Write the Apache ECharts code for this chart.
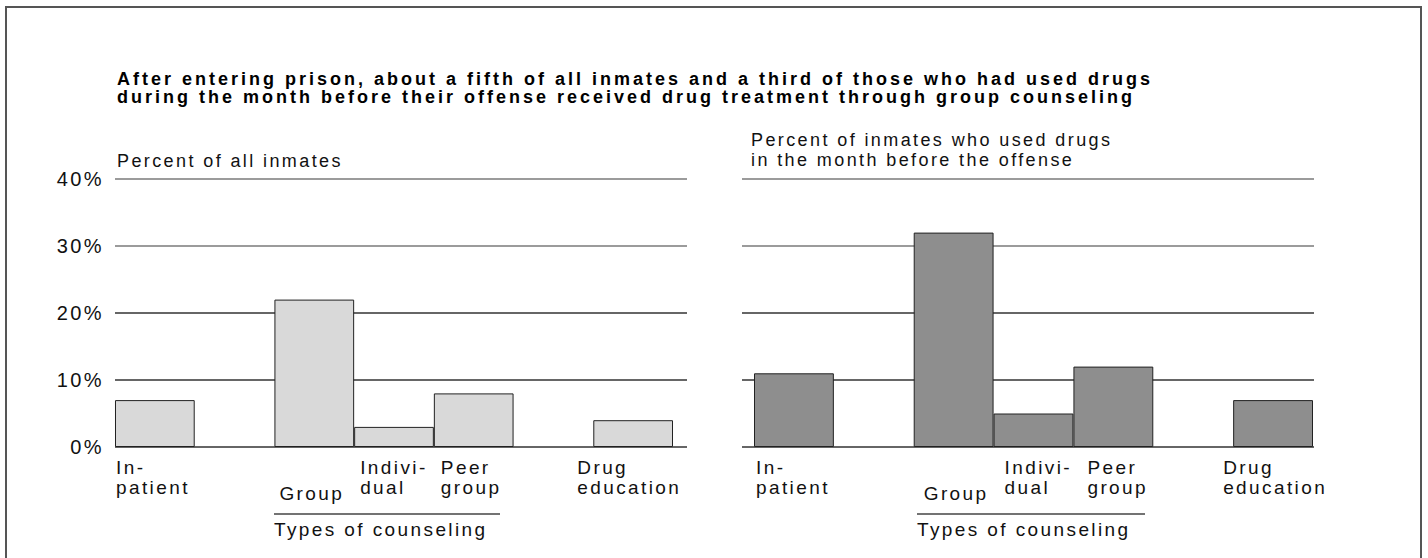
<!DOCTYPE html>
<html>
<head>
<meta charset="utf-8">
<script src="https://cdn.jsdelivr.net/npm/echarts@6/dist/echarts.min.js"></script>
<style>
  html, body { margin: 0; padding: 0; background: #fff; }
  #chart { width: 1428px; height: 558px; }
  /* the original uses loosely tracked Helvetica */
  #chart text { letter-spacing: 2.4px; }
  #chart text[style*="bold"] { letter-spacing: 3px; }
</style>
</head>
<body>
<div id="chart"></div>
<script>
// slots along the x axis, empty strings are the gaps between groups
const categories = ['In-\npatient', '', 'Group', 'Indivi-\ndual', 'Peer\ngroup', '', 'Drug\neducation'];
const allInmates = [7, null, 22, 3, 8, null, 4];
const drugUsers = [11, null, 32, 5, 12, null, 7];
const yTicks = [0, 10, 20, 30, 40];
const titleLines = [
  'After entering prison, about a fifth of all inmates and a third of those who had used drugs',
  'during the month before their offense received drug treatment through group counseling'
];

// label nudges from the bar's bottom-left corner [dx, dy]
const nudgeLeft = [[1, 10], null, [5, 36], [6, 10], [7, 10], null, [-16, 10]];
const nudgeRight = [[2, 10], null, [10, 36], [11, 10], [14, 10], null, [-10, 10]];

const FONT = 'Liberation Sans, Arial, sans-serif';
const TEXT = '#111';
const PLOT_TOP = 179;
const PLOT_H = 268;

const chart = echarts.init(document.getElementById('chart'), null, { renderer: 'svg' });

function barData(values, nudges) {
  return values.map((v, i) => {
    if (v == null) return '-';
    return {
      value: v,
      label: { offset: nudges[i] }
    };
  });
}

function barSeries(values, nudges, axisIdx, fill) {
  return {
    type: 'bar',
    xAxisIndex: axisIdx,
    yAxisIndex: axisIdx,
    barCategoryGap: '0%',
    data: barData(values, nudges),
    itemStyle: { color: fill, borderColor: '#222', borderWidth: 1 },
    label: {
      show: true,
      position: [0, '100%'],
      align: 'left',
      verticalAlign: 'top',
      formatter: '{b}',
      fontFamily: FONT,
      fontSize: 19,
      lineHeight: 20,
      color: TEXT
    },
    emphasis: { disabled: true },
    silent: true
  };
}

const gridLineColors = ['#333', '#333', '#333', '#7a7a7a', '#7a7a7a'];

const titleStyle = { fontFamily: FONT, fontSize: 18, fontWeight: 'bold', lineHeight: 18, color: '#000' };

const option = {
  backgroundColor: '#fff',
  animation: false,
  title: [
    { text: titleLines[0], left: 117, top: 69.5, padding: 0, textStyle: titleStyle },
    { text: titleLines[1], left: 117, top: 88, padding: 0, textStyle: titleStyle },
    {
      text: 'Percent of all inmates',
      left: 117,
      top: 152,
      padding: 0,
      textStyle: { fontFamily: FONT, fontSize: 18, fontWeight: 'normal', lineHeight: 18, color: TEXT }
    },
    {
      text: 'Percent of inmates who used drugs\nin the month before the offense',
      left: 751,
      top: 130,
      padding: 0,
      textStyle: { fontFamily: FONT, fontSize: 18, fontWeight: 'normal', lineHeight: 20, color: TEXT }
    }
  ],
  grid: [
    { left: 115, top: PLOT_TOP, width: 572, height: PLOT_H },
    { left: 115, top: PLOT_TOP, width: 558, height: PLOT_H },
    { left: 742, top: PLOT_TOP, width: 572, height: PLOT_H },
    { left: 754, top: PLOT_TOP, width: 559, height: PLOT_H }
  ],
  xAxis: [
    { gridIndex: 0, type: 'category', data: [''], show: false },
    { gridIndex: 1, type: 'category', data: categories, show: false },
    { gridIndex: 2, type: 'category', data: [''], show: false },
    { gridIndex: 3, type: 'category', data: categories, show: false }
  ],
  yAxis: [0, 1, 2, 3].map(i => ({
    gridIndex: i,
    type: 'value',
    min: yTicks[0],
    max: yTicks[yTicks.length - 1],
    interval: 10,
    axisLine: { show: false },
    axisTick: { show: false },
    axisLabel: {
      show: i === 0,
      formatter: '{value}%',
      margin: 11,
      padding: [5, 0, 0, 0],
      fontFamily: FONT,
      fontSize: 20,
      color: TEXT
    },
    splitLine: {
      show: i === 0 || i === 2,
      lineStyle: { color: gridLineColors, width: 1.5 }
    }
  })),
  series: [
    barSeries(allInmates, nudgeLeft, 1, '#d9d9d9'),
    barSeries(drugUsers, nudgeRight, 3, '#8e8e8e')
  ],
  graphic: [
    {
      type: 'polyline',
      shape: { points: [[6, 560], [6, 7], [1421, 7], [1421, 560]] },
      style: { stroke: '#555', lineWidth: 2, fill: null },
      silent: true
    },
    {
      type: 'line',
      shape: { x1: 274, y1: 514, x2: 500, y2: 514 },
      style: { stroke: '#444', lineWidth: 1.5 }
    },
    {
      type: 'text',
      left: 274,
      top: 520,
      style: { text: 'Types of counseling', font: '19px ' + FONT, fill: TEXT }
    },
    {
      type: 'line',
      shape: { x1: 917, y1: 514, x2: 1145, y2: 514 },
      style: { stroke: '#444', lineWidth: 1.5 }
    },
    {
      type: 'text',
      left: 917,
      top: 520,
      style: { text: 'Types of counseling', font: '19px ' + FONT, fill: TEXT }
    }
  ]
};

chart.setOption(option);
</script>
</body>
</html>
